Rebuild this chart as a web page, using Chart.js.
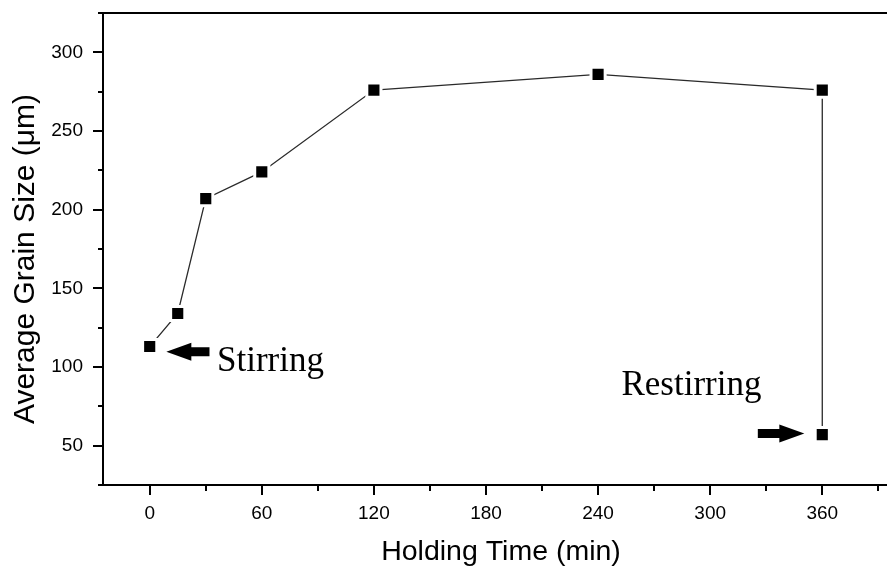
<!DOCTYPE html>
<html>
<head>
<meta charset="utf-8">
<title>Average Grain Size vs Holding Time</title>
<script src="https://cdn.jsdelivr.net/npm/chart.js@4.4.1/dist/chart.umd.min.js"></script>
<style>
  html, body { margin: 0; padding: 0; background: #fff; overflow: hidden; }
  canvas { display: block; }
</style>
</head>
<body>
<canvas id="grain-graphic" width="910" height="566"></canvas>
<script>
const holdTime = [0, 15, 30, 60, 120, 240, 360, 360];
const grainSize = [113, 134, 207, 224, 276, 286, 276, 57];
const xTickValues = [0, 60, 120, 180, 240, 300, 360];
const yTickValues = [50, 100, 150, 200, 250, 300];
const xTitle = 'Holding Time (min)';
const yTitle = 'Average Grain Size (\u03bcm)';

// arrows and notes, given in data units
const arrows = [
    { from: [32, 109.7], to: [8.9, 109.7] },
    { from: [325.5, 57.7], to: [350.4, 57.7] }
];
const notes = [
    { text: 'Stirring', x: 36, y: 97.3 },
    { text: 'Restirring', x: 252.5, y: 82 }
];

const sans = '"Liberation Sans", Arial, sans-serif';
const serif = '"Liberation Serif", "Times New Roman", serif';

function drawArrow(ctx, x0, y0, x1, y1) {
    const len = Math.hypot(x1 - x0, y1 - y0);
    const ux = (x1 - x0) / len, uy = (y1 - y0) / len;
    const nx = -uy, ny = ux;
    const head = 25, hw = 9, sw = 4.5;
    const bx = x1 - ux * head, by = y1 - uy * head;
    ctx.beginPath();
    ctx.moveTo(x0 + nx * sw, y0 + ny * sw);
    ctx.lineTo(bx + nx * sw, by + ny * sw);
    ctx.lineTo(bx + nx * hw, by + ny * hw);
    ctx.lineTo(x1, y1);
    ctx.lineTo(bx - nx * hw, by - ny * hw);
    ctx.lineTo(bx - nx * sw, by - ny * sw);
    ctx.lineTo(x0 - nx * sw, y0 - ny * sw);
    ctx.closePath();
    ctx.fill();
}

// box, outward tick marks, axis titles and the notes
const frame = {
    id: 'frame',
    afterDraw(chart) {
        const { ctx, chartArea: a, scales: { x, y } } = chart;
        ctx.save();
        ctx.strokeStyle = '#000';
        ctx.fillStyle = '#000';
        ctx.lineWidth = 2;
        ctx.beginPath();
        ctx.moveTo(a.left, a.top);
        ctx.lineTo(a.right, a.top);
        ctx.lineTo(a.right, a.bottom);
        for (let v = 0; v <= x.max; v += 30) {
            const px = Math.round(x.getPixelForValue(v));
            const len = v % 60 === 0 ? 10 : 6;
            ctx.moveTo(px, a.bottom);
            ctx.lineTo(px, a.bottom + len);
        }
        for (let v = y.min; v <= y.max; v += 25) {
            const py = Math.round(y.getPixelForValue(v));
            const len = v % 50 === 0 ? 10 : 5;
            ctx.moveTo(a.left, py);
            ctx.lineTo(a.left - len, py);
        }
        ctx.stroke();

        ctx.textAlign = 'center';
        ctx.textBaseline = 'alphabetic';
        ctx.font = '28.5px ' + sans;
        ctx.fillText(xTitle, (a.left + a.right) / 2 + 1, a.bottom + 75);
        ctx.save();
        ctx.translate(a.left - 69.5, (a.top + a.bottom) / 2 + 10);
        ctx.rotate(-Math.PI / 2);
        ctx.font = '30px ' + sans;
        ctx.fillText(yTitle, 0, 0);
        ctx.restore();

        arrows.forEach(ar => {
            drawArrow(ctx,
                x.getPixelForValue(ar.from[0]), y.getPixelForValue(ar.from[1]),
                x.getPixelForValue(ar.to[0]), y.getPixelForValue(ar.to[1]));
        });

        ctx.textAlign = 'left';
        ctx.font = '35px ' + serif;
        notes.forEach(n => {
            ctx.fillText(n.text, x.getPixelForValue(n.x), y.getPixelForValue(n.y));
        });
        ctx.restore();
    }
};

new Chart(document.getElementById('grain-graphic'), {
    type: 'scatter',
    data: {
        datasets: [{
            data: holdTime.map((t, i) => ({ x: t, y: grainSize[i] })),
            showLine: true,
            borderColor: '#2a2a2a',
            borderWidth: 1.3,
            pointStyle: 'rect',
            pointRadius: 10,
            pointBackgroundColor: '#000',
            pointBorderColor: '#fff',
            pointBorderWidth: 3
        }]
    },
    options: {
        responsive: false,
        animation: false,
        events: [],
        layout: { padding: { top: 10, right: 11, left: 0, bottom: 0 } },
        plugins: {
            legend: { display: false },
            tooltip: { enabled: false }
        },
        scales: {
            x: {
                type: 'linear',
                min: -25,
                max: 400,
                afterBuildTicks: s => { s.ticks = xTickValues.map(v => ({ value: v })); },
                afterFit: s => {
                    s.height = 81;
                    s.paddingLeft = 0;
                    s.paddingRight = 0;
                },
                grid: { display: false, drawTicks: false },
                border: { color: '#000', width: 2 },
                ticks: {
                    padding: 17,
                    color: '#000',
                    maxRotation: 0,
                    autoSkip: false,
                    font: { family: sans, size: 19 }
                }
            },
            y: {
                min: 25,
                max: 325,
                afterBuildTicks: s => { s.ticks = yTickValues.map(v => ({ value: v })); },
                afterFit: s => {
                    s.width = 103;
                    s.paddingTop = 0;
                    s.paddingBottom = 0;
                },
                grid: { display: false, drawTicks: false },
                border: { color: '#000', width: 2 },
                ticks: {
                    padding: 20,
                    color: '#000',
                    autoSkip: false,
                    font: { family: sans, size: 19 }
                }
            }
        }
    },
    plugins: [frame]
});
</script>
</body>
</html>
